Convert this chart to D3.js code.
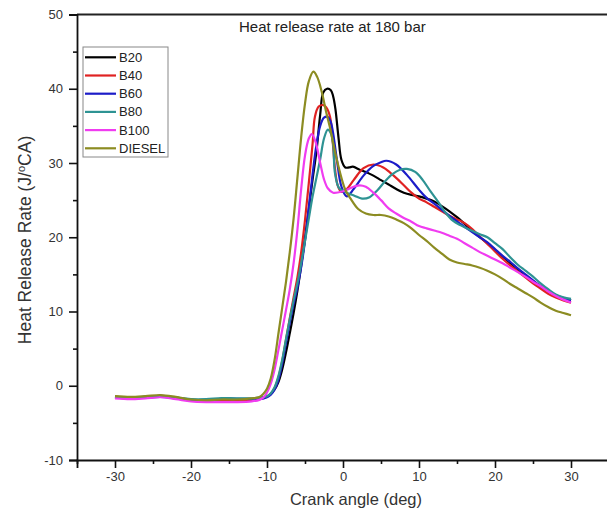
<!DOCTYPE html>
<html><head><meta charset="utf-8">
<script src="https://cdn.jsdelivr.net/npm/d3@7"></script>
<style>
body{margin:0;background:#fff;}
svg{display:block;font-family:Arial,"Liberation Sans",sans-serif;}
</style></head>
<body><svg id="c" width="607" height="513"></svg>
<script>
// ---- data: [crank angle (deg), heat release rate (J/°CA)] ----
const seriesNames = ["B20","B40","B60","B80","B100","DIESEL"];
const seriesColors = ["#000000","#e02222","#1c1cc8","#2e9393","#f03cf0","#8c8c22"];
const xTicks = [-30,-20,-10,0,10,20,30];
const yTicks = [-10,0,10,20,30,40,50];

const b20 = [[-30,-1.5],[-28,-1.6],[-26,-1.5],[-24,-1.35],[-22,-1.6],[-20,-1.9],[-18,-2.0],[-16,-1.9],[-14,-1.9],[-12,-1.8],[-11,-1.7],[-10,-1.45],[-9.5,-1.1],[-9,-0.5],[-8.5,0.5],[-8,2.2],[-7.5,4.5],[-7,7.1],[-6.5,9.8],[-6,12.8],[-5.5,16.2],[-5,19.8],[-4.5,23.8],[-4,27.8],[-3.5,31.5],[-3,36.5],[-2.6,39.5],[-2.1,40.0],[-1.6,39.8],[-1.3,39.0],[-1.0,37.3],[-0.6,33.5],[-0.2,30.4],[0.3,29.4],[0.8,29.4],[1.3,29.5],[2.2,29.1],[3,28.8],[4,28.3],[5,27.7],[6,27.1],[7,26.5],[8,26.0],[9,25.7],[10,25.5],[11,25.2],[12,24.8],[13,24.2],[14,23.5],[15,22.7],[16,21.8],[17,20.9],[18,20.0],[19,19.2],[20,18.3],[21,17.4],[22,16.5],[23,15.7],[24,14.9],[25,14.1],[26,13.4],[27,12.8],[28,12.2],[29,11.8],[30,11.5]];

const b40 = [[-30,-1.6],[-28,-1.7],[-26,-1.6],[-24,-1.45],[-22,-1.7],[-20,-2.0],[-18,-2.1],[-16,-2.0],[-14,-2.0],[-12,-1.9],[-11,-1.8],[-10,-1.5],[-9.5,-1.1],[-9,-0.3],[-8.5,1.1],[-8,3.3],[-7.5,6.2],[-7,9.1],[-6.5,11.9],[-6,14.6],[-5.5,18.0],[-5,22.3],[-4.5,27.3],[-4,32.6],[-3.7,36.2],[-3.2,37.6],[-2.6,37.8],[-2.2,37.5],[-1.7,36.2],[-1.35,32.8],[-1.05,29.2],[-0.7,27.0],[-0.2,26.1],[0.5,26.5],[1.4,27.7],[2.7,29.3],[4,29.8],[5.3,29.4],[6.2,28.7],[7.1,27.9],[8,27.0],[9,26.0],[10,25.2],[11,24.7],[12,24.1],[13,23.5],[14,22.9],[15,22.4],[16,21.9],[17,21.1],[18,20.1],[19,19.1],[20,18.1],[21,17.1],[22,16.2],[23,15.4],[24,14.6],[25,13.8],[26,13.1],[27,12.4],[28,11.9],[29,11.5],[30,11.2]];

const b60 = [[-30,-1.6],[-28,-1.7],[-26,-1.6],[-24,-1.5],[-22,-1.7],[-20,-1.9],[-18,-1.9],[-16,-1.75],[-14,-1.75],[-12,-1.8],[-11,-1.8],[-10,-1.55],[-9.5,-1.2],[-9,-0.5],[-8.5,0.8],[-8,3.0],[-7.5,5.8],[-7,8.5],[-6.5,11.0],[-6,13.2],[-5.5,16.0],[-5,19.5],[-4.5,24.0],[-4,28.5],[-3.5,32.4],[-3,35.0],[-2.5,36.1],[-2,36.2],[-1.6,35.5],[-1.3,34.0],[-0.8,30.4],[-0.2,26.8],[0.5,25.5],[1.4,26.5],[2.7,28.3],[4,29.6],[5,30.1],[5.7,30.3],[7,29.8],[8.4,28.4],[10,26.4],[11,25.3],[12.3,24.3],[13.5,23.3],[14.5,22.5],[16,21.4],[17,20.7],[18,20.0],[19,19.3],[20,18.4],[21,17.5],[22,16.7],[23,15.8],[24,15.0],[25,14.2],[26,13.4],[27,12.8],[28,12.2],[29,11.8],[30,11.5]];

const b80 = [[-30,-1.5],[-28,-1.6],[-26,-1.5],[-24,-1.4],[-22,-1.6],[-20,-1.8],[-18,-1.8],[-16,-1.65],[-14,-1.7],[-12,-1.7],[-11,-1.6],[-10,-1.4],[-9.5,-1.0],[-9,-0.2],[-8.5,1.3],[-8,3.5],[-7.5,6.3],[-7,9.0],[-6.5,11.5],[-6,13.8],[-5.5,16.5],[-5,19.5],[-4.5,22.5],[-4,25.5],[-3.5,28.0],[-3,30.5],[-2.5,33.3],[-2,34.5],[-1.6,34.0],[-1.3,32.5],[-1.05,28.6],[-0.5,26.6],[0.5,26.0],[1.5,25.6],[2.5,25.2],[3.5,25.4],[4.5,26.3],[5.5,27.5],[6.5,28.5],[7.5,29.1],[8.4,29.2],[9.5,28.8],[10.5,27.7],[11.5,26.2],[12.5,24.8],[13.5,23.3],[14.5,22.2],[15.5,21.6],[16.7,21.0],[18,20.4],[19,20.0],[20,19.2],[21,18.4],[22,17.3],[23,16.3],[24,15.5],[25,14.7],[26,13.8],[27,13.0],[28,12.3],[29,11.9],[30,11.7]];

const b100 = [[-30,-1.7],[-28,-1.8],[-26,-1.7],[-24,-1.55],[-22,-1.8],[-20,-2.1],[-18,-2.2],[-16,-2.2],[-14,-2.2],[-12,-2.1],[-11,-1.9],[-10.5,-1.6],[-10,-0.9],[-9.5,0.3],[-9,2.2],[-8.5,4.8],[-8,7.5],[-7.5,10.2],[-7,13.0],[-6.5,16.5],[-6,21.0],[-5.5,26.5],[-5,31.0],[-4.5,33.3],[-4.1,33.9],[-3.6,32.8],[-3,30.0],[-2.5,27.8],[-2,26.6],[-1.3,26.0],[0,26.2],[1.4,26.8],[2.2,27.0],[3,26.8],[4,26.0],[5,25.0],[6,23.9],[7,23.2],[8,22.6],[9,22.1],[10,21.5],[11,21.2],[12,20.9],[13,20.6],[14,20.2],[15,19.8],[16,19.2],[17,18.6],[18,18.0],[19,17.5],[20,17.0],[21,16.5],[22,15.9],[23,15.3],[24,14.7],[25,14.0],[26,13.4],[27,12.7],[28,12.1],[29,11.6],[30,11.2]];

const diesel = [[-30,-1.4],[-28,-1.5],[-26,-1.4],[-24,-1.25],[-22,-1.5],[-20,-1.85],[-18,-1.95],[-16,-1.85],[-14,-1.85],[-12,-1.7],[-11,-1.5],[-10.5,-1.1],[-10,-0.4],[-9.5,1.0],[-9,3.5],[-8.5,7.0],[-8,10.5],[-7.5,14.0],[-7,18.0],[-6.5,22.5],[-6,28.0],[-5.5,33.5],[-5,38.0],[-4.5,41.0],[-3.9,42.3],[-3.4,41.6],[-2.8,39.6],[-2.2,36.8],[-1.7,34.7],[-0.8,30.4],[0.3,26.4],[1,25.2],[2,23.8],[3,23.2],[4,23.0],[5,23.0],[6,22.8],[7,22.4],[8,21.9],[9,21.2],[10,20.3],[11,19.5],[12,18.6],[13,17.8],[14,17.0],[15,16.6],[16,16.4],[17,16.2],[18,15.9],[19,15.5],[20,15.0],[21,14.4],[22,13.7],[23,13.1],[24,12.5],[25,11.9],[26,11.2],[27,10.6],[28,10.1],[29,9.8],[30,9.5]];

const allSeries = [b20,b40,b60,b80,b100,diesel];

// ---- chart ----
const svg = d3.select("#c");
const x = d3.scaleLinear().domain([-35,35]).range([77,609]);
const y = d3.scaleLinear().domain([-10,50]).range([460,14.5]);

const line = d3.line().x(d=>x(d[0])).y(d=>y(d[1])).curve(d3.curveCatmullRom.alpha(0.5));

svg.append("g").selectAll("path").data(allSeries).join("path")
  .attr("d", line).attr("fill","none")
  .attr("stroke",(d,i)=>seriesColors[i]).attr("stroke-width",2.2)
  .attr("stroke-linejoin","round");

// top frame line
svg.append("line").attr("x1",x(-35)).attr("x2",x(35)).attr("y1",y(50)).attr("y2",y(50))
  .attr("stroke","#222").attr("stroke-width",2);

const fmt = d => String(d);

// y axis
const yMinor = d3.axisLeft(y).tickValues(d3.range(-5,50,10)).tickSize(4).tickFormat("");
const gyMin = svg.append("g").attr("transform",`translate(${x(-35)},0)`).call(yMinor);
const yAxis = d3.axisLeft(y).tickValues(yTicks).tickSize(8).tickPadding(6).tickFormat(fmt);
const gy = svg.append("g").attr("transform",`translate(${x(-35)},0)`).call(yAxis);

// x axis
const xMinor = d3.axisBottom(x).tickValues(d3.range(-35,36,10)).tickSize(4).tickFormat("");
const gxMin = svg.append("g").attr("transform",`translate(0,${y(-10)})`).call(xMinor);
const xAxis = d3.axisBottom(x).tickValues(xTicks).tickSize(8).tickPadding(4).tickFormat(fmt);
const gx = svg.append("g").attr("transform",`translate(0,${y(-10)})`).call(xAxis);

[gy,gx,gyMin,gxMin].forEach(g=>{
  g.selectAll(".domain").attr("stroke","#111").attr("stroke-width",1.8);
  g.selectAll(".tick line").attr("stroke","#111").attr("stroke-width",1.6);
  g.selectAll("text").attr("font-size","13px").attr("fill","#333")
    .attr("font-family","Arial, 'Liberation Sans', sans-serif");
});
gyMin.select(".domain").remove(); gxMin.select(".domain").remove();

// titles
svg.append("text").attr("x",239).attr("y",32).attr("text-anchor","start")
  .attr("font-size","15px").attr("fill","#222").text("Heat release rate at 180 bar");
svg.append("text").attr("x",356).attr("y",505).attr("text-anchor","middle")
  .attr("font-size","16.5px").attr("fill","#333").text("Crank angle (deg)");
const yt = svg.append("text").attr("transform","translate(31,240) rotate(-90)")
  .attr("text-anchor","middle").attr("font-size","17.5px").attr("fill","#333");
yt.append("tspan").text("Heat Release Rate (J/");
yt.append("tspan").attr("font-size","11px").attr("dy","-6").text("o");
yt.append("tspan").attr("dy","6").text("CA)");

// legend
const lg = svg.append("g");
lg.append("rect").attr("x",83).attr("y",47).attr("width",85).attr("height",110)
  .attr("fill","#fff").attr("stroke","#888").attr("stroke-width",1);
const items = lg.selectAll("g.item").data(seriesNames).join("g")
  .attr("transform",(d,i)=>`translate(0,${57.3+i*18.2})`);
items.append("line").attr("x1",85).attr("x2",116).attr("y1",0).attr("y2",0)
  .attr("stroke",(d,i)=>seriesColors[i]).attr("stroke-width",2.2);
items.append("text").attr("x",119).attr("y",0).attr("dy","0.35em")
  .attr("font-size","13px").attr("fill","#222").text(d=>d);
</script>
</body></html>
